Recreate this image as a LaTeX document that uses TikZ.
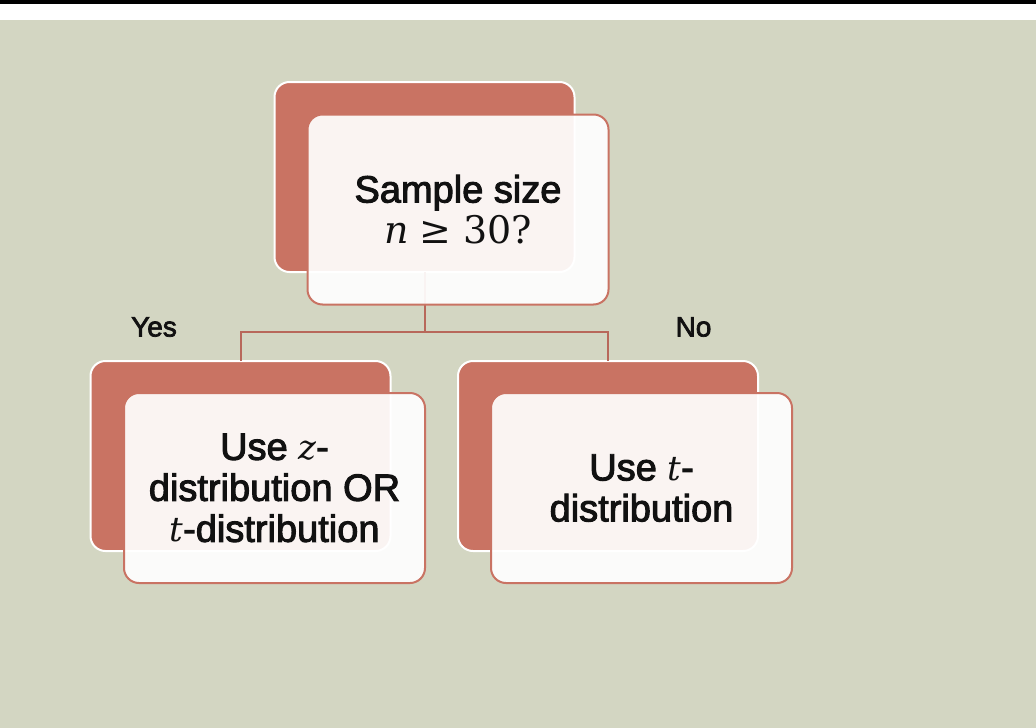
\documentclass[tikz,border=0pt]{standalone}
\usepackage{fontspec}
\setmainfont{Liberation Sans}[FakeBold=2.6]
\newfontfamily\mfont{DejaVu Serif}
\newcommand{\mv}[1]{{\mfont\itshape #1}}
\definecolor{bg}{HTML}{D3D6C2}
\definecolor{salmon}{HTML}{C97363}
\definecolor{linkc}{HTML}{B8685A}
\definecolor{ink}{HTML}{111111}
\tikzset{
  backbox/.style={draw=white, line width=2pt, fill=salmon, rounded corners=15pt,
    minimum width=300pt, minimum height=190pt, inner sep=0pt, outer sep=0pt},
  frontbox/.style={draw=salmon, line width=2pt, fill=white, fill opacity=0.92, text opacity=1,
    rounded corners=15pt, minimum width=301pt, minimum height=190pt, inner sep=0pt, outer sep=0pt,
    align=center, text=ink, font=\fontsize{38}{41}\selectfont},
  link/.style={draw=linkc, line width=2pt},
  lbl/.style={text=ink, font=\fontsize{28}{30}\selectfont, inner sep=0pt}
}
\begin{document}
\begin{tikzpicture}[x=1pt,y=-1pt]
\useasboundingbox (0,0) rectangle (1036,728);
\fill[bg] (0,0) rectangle (1036,728);
\fill[white] (0,4) rectangle (1036,20);
\fill[black] (0,0) rectangle (1036,4);
% back boxes
\node[backbox] (tb) at (424.5,177) {};
\node[backbox] (lb) at (240.5,456) {};
\node[backbox] (rb) at (608,456) {};
% connectors
\coordinate (j) at (424.5,332);
\draw[link] (tb.south) -- (tb.south |- j);
\draw[link] (lb.north) -- (lb.north |- j) -- (rb.north |- j) -- (rb.north);
% front boxes
\node[frontbox] (tf) at (458,209.5) {Sample size\\{\fontsize{38}{41}\selectfont\mv{n} {\mfont ≥ 30?}}};
\node[frontbox] (lf) at (274.5,488) {Use {\fontsize{34}{41}\selectfont\mv{z}}-\\distribution OR\\{\fontsize{34}{41}\selectfont\mv{t}}-distribution};
\node[frontbox] (rf) at (641.5,488) {Use {\fontsize{34}{41}\selectfont\mv{t}}-\\distribution};
% labels
\node[lbl] (yes) at (154,327) {Yes};
\node[lbl] (no) at (693.5,327) {No};
\end{tikzpicture}
\end{document}
